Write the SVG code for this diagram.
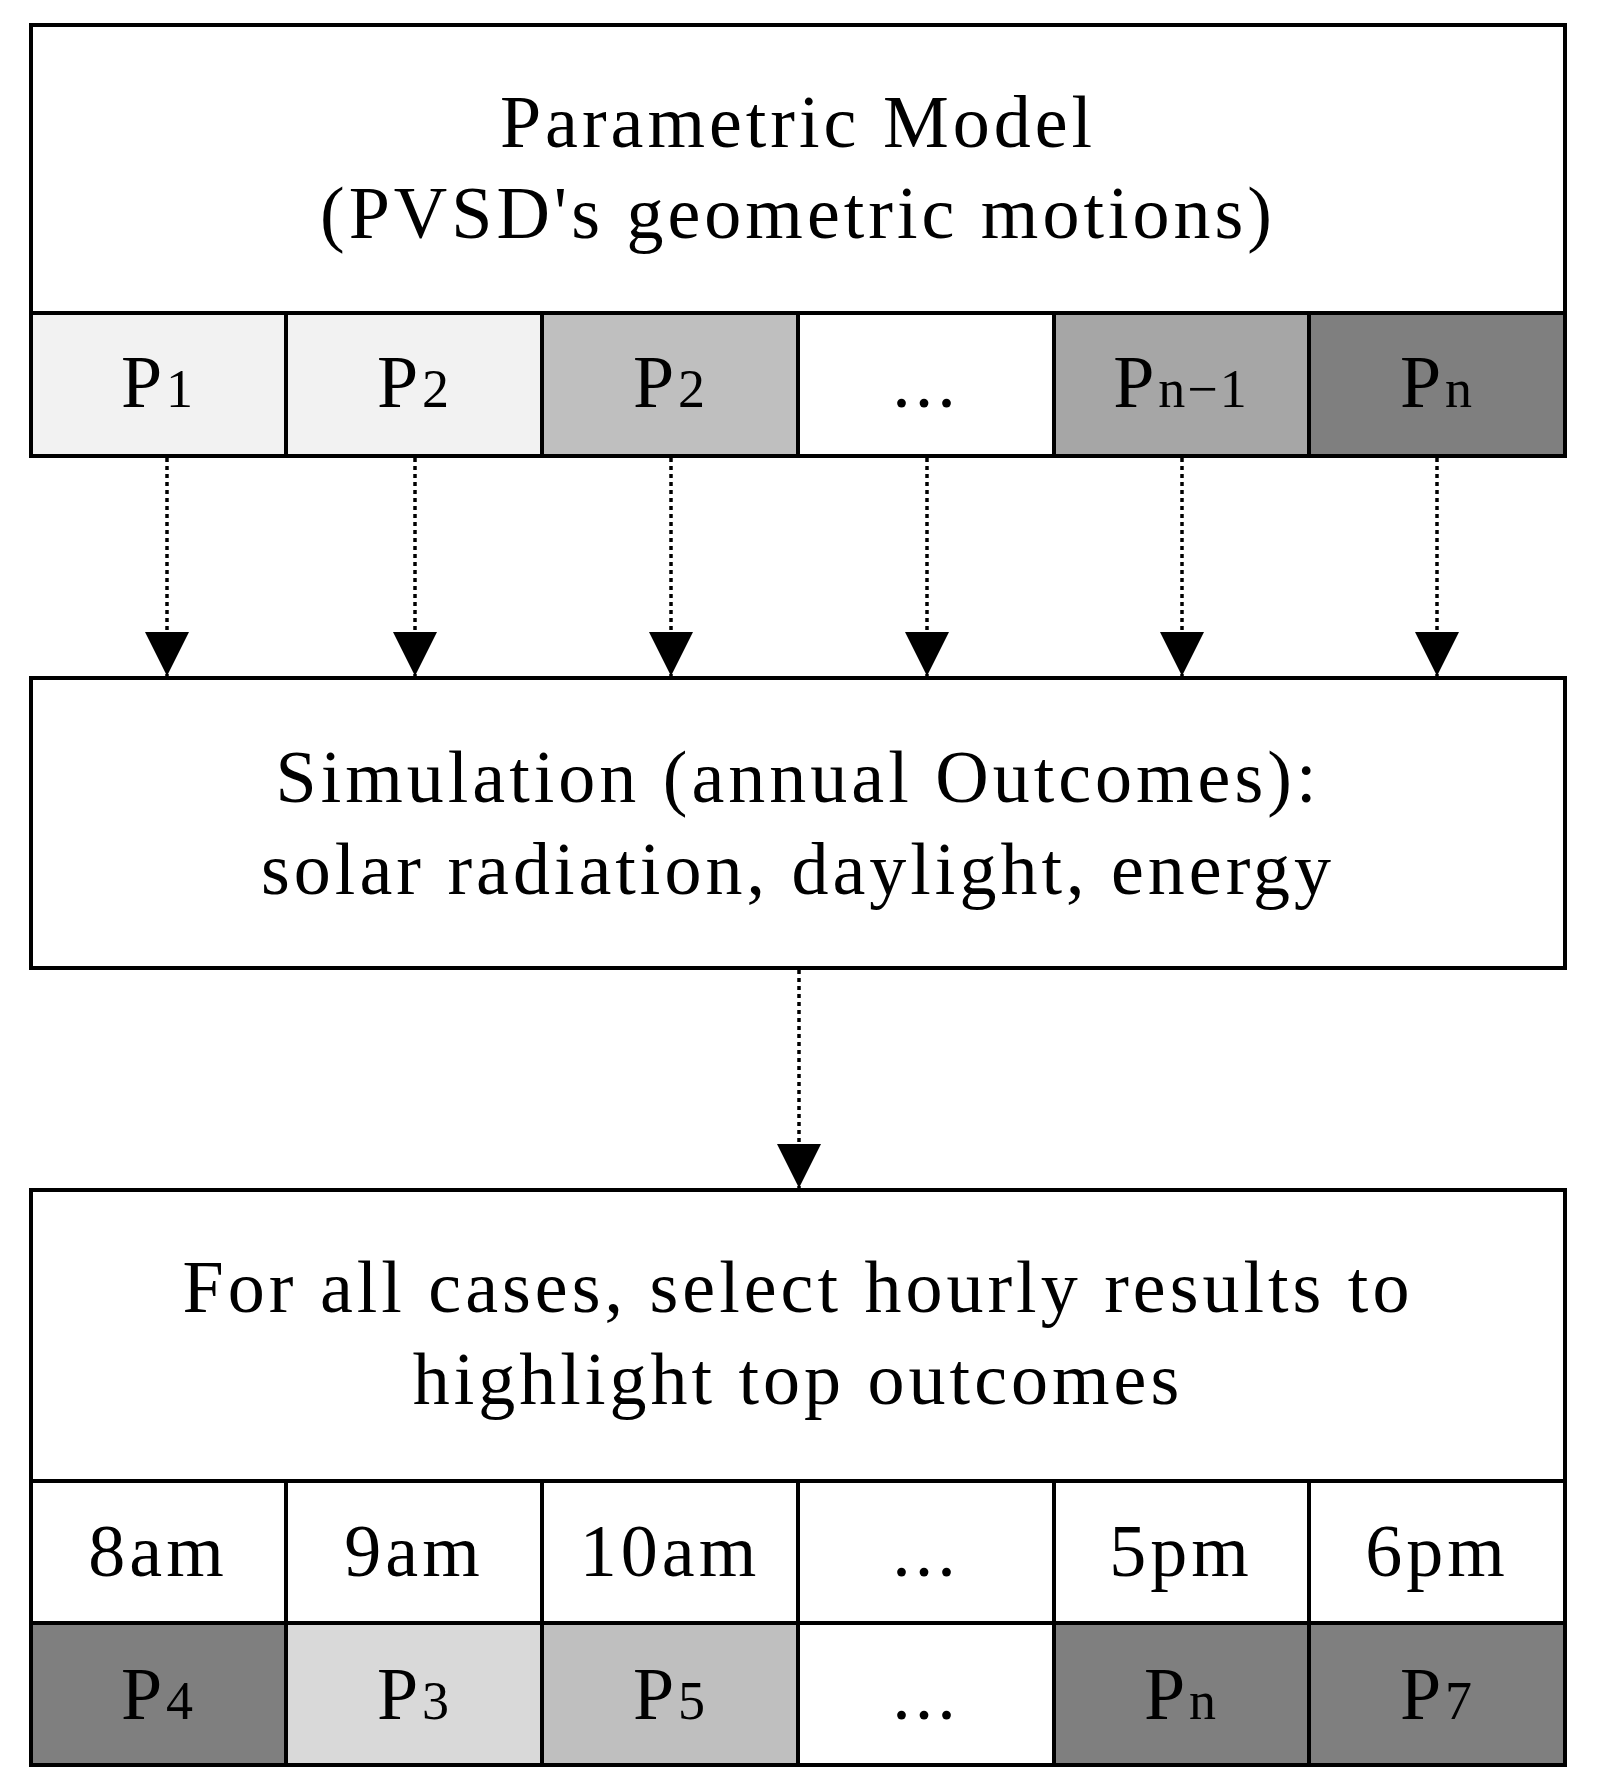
<svg xmlns="http://www.w3.org/2000/svg" width="1598" height="1787" viewBox="0 0 1598 1787">
<style>
rect{stroke:#000;stroke-width:4}
text{font-family:"Liberation Serif","Times New Roman",serif;font-size:74px;letter-spacing:4px;text-anchor:middle;fill:#000}
.s{font-size:54px;letter-spacing:2px}
.c{stroke:#000;stroke-width:3.5;stroke-dasharray:4 4;fill:none}
</style>
<defs><marker id="a" viewBox="0 0 10 10" refX="10" refY="5" markerWidth="44" markerHeight="44" markerUnits="userSpaceOnUse" orient="auto"><path d="M0,0 L10,5 L0,10 z" fill="#000"/></marker></defs>
<g id="model">
<rect x="31" y="25" width="1534" height="288" fill="#fff"/>
<text x="798" y="147">Parametric Model</text>
<text x="798" y="238">(PVSD's geometric motions)</text>
</g>
<g id="params">
<rect x="31" y="313" width="255" height="143" fill="#f2f2f2"/>
<rect x="286" y="313" width="256" height="143" fill="#f2f2f2"/>
<rect x="542" y="313" width="256" height="143" fill="#bfbfbf"/>
<rect x="798" y="313" width="256" height="143" fill="#fff"/>
<rect x="1054" y="313" width="255" height="143" fill="#a6a6a6"/>
<rect x="1309" y="313" width="256" height="143" fill="#7f7f7f"/>
<text x="158" y="407">P<tspan class="s">1</tspan></text>
<text x="414" y="407">P<tspan class="s">2</tspan></text>
<text x="670" y="407">P<tspan class="s">2</tspan></text>
<text x="926" y="407">...</text>
<text x="1181" y="407">P<tspan class="s">n−1</tspan></text>
<text x="1437" y="407">P<tspan class="s">n</tspan></text>
</g>
<g id="sim">
<rect x="31" y="678" width="1534" height="290" fill="#fff"/>
<text x="798" y="802">Simulation (annual Outcomes):</text>
<text x="798" y="894">solar radiation, daylight, energy</text>
</g>
<g id="select">
<rect x="31" y="1190" width="1534" height="291" fill="#fff"/>
<text x="798" y="1312">For all cases, select hourly results to</text>
<text x="798" y="1404">highlight top outcomes</text>
</g>
<g id="hours">
<rect x="31" y="1481" width="255" height="142" fill="#fff"/>
<rect x="286" y="1481" width="256" height="142" fill="#fff"/>
<rect x="542" y="1481" width="256" height="142" fill="#fff"/>
<rect x="798" y="1481" width="256" height="142" fill="#fff"/>
<rect x="1054" y="1481" width="255" height="142" fill="#fff"/>
<rect x="1309" y="1481" width="256" height="142" fill="#fff"/>
<text x="158" y="1576">8am</text>
<text x="414" y="1576">9am</text>
<text x="670" y="1576">10am</text>
<text x="926" y="1576">...</text>
<text x="1181" y="1576">5pm</text>
<text x="1437" y="1576">6pm</text>
</g>
<g id="picks">
<rect x="31" y="1623" width="255" height="142" fill="#7f7f7f"/>
<rect x="286" y="1623" width="256" height="142" fill="#d9d9d9"/>
<rect x="542" y="1623" width="256" height="142" fill="#bfbfbf"/>
<rect x="798" y="1623" width="256" height="142" fill="#fff"/>
<rect x="1054" y="1623" width="255" height="142" fill="#7f7f7f"/>
<rect x="1309" y="1623" width="256" height="142" fill="#7f7f7f"/>
<text x="158" y="1719">P<tspan class="s">4</tspan></text>
<text x="414" y="1719">P<tspan class="s">3</tspan></text>
<text x="670" y="1719">P<tspan class="s">5</tspan></text>
<text x="926" y="1719">...</text>
<text x="1181" y="1719">P<tspan class="s">n</tspan></text>
<text x="1437" y="1719">P<tspan class="s">7</tspan></text>
</g>
<g id="connectors">
<line class="c" x1="167" y1="458" x2="167" y2="676" marker-end="url(#a)"/>
<line class="c" x1="415" y1="458" x2="415" y2="676" marker-end="url(#a)"/>
<line class="c" x1="671" y1="458" x2="671" y2="676" marker-end="url(#a)"/>
<line class="c" x1="927" y1="458" x2="927" y2="676" marker-end="url(#a)"/>
<line class="c" x1="1182" y1="458" x2="1182" y2="676" marker-end="url(#a)"/>
<line class="c" x1="1437" y1="458" x2="1437" y2="676" marker-end="url(#a)"/>
<line class="c" x1="799" y1="970" x2="799" y2="1188" marker-end="url(#a)"/>
</g>
</svg>
